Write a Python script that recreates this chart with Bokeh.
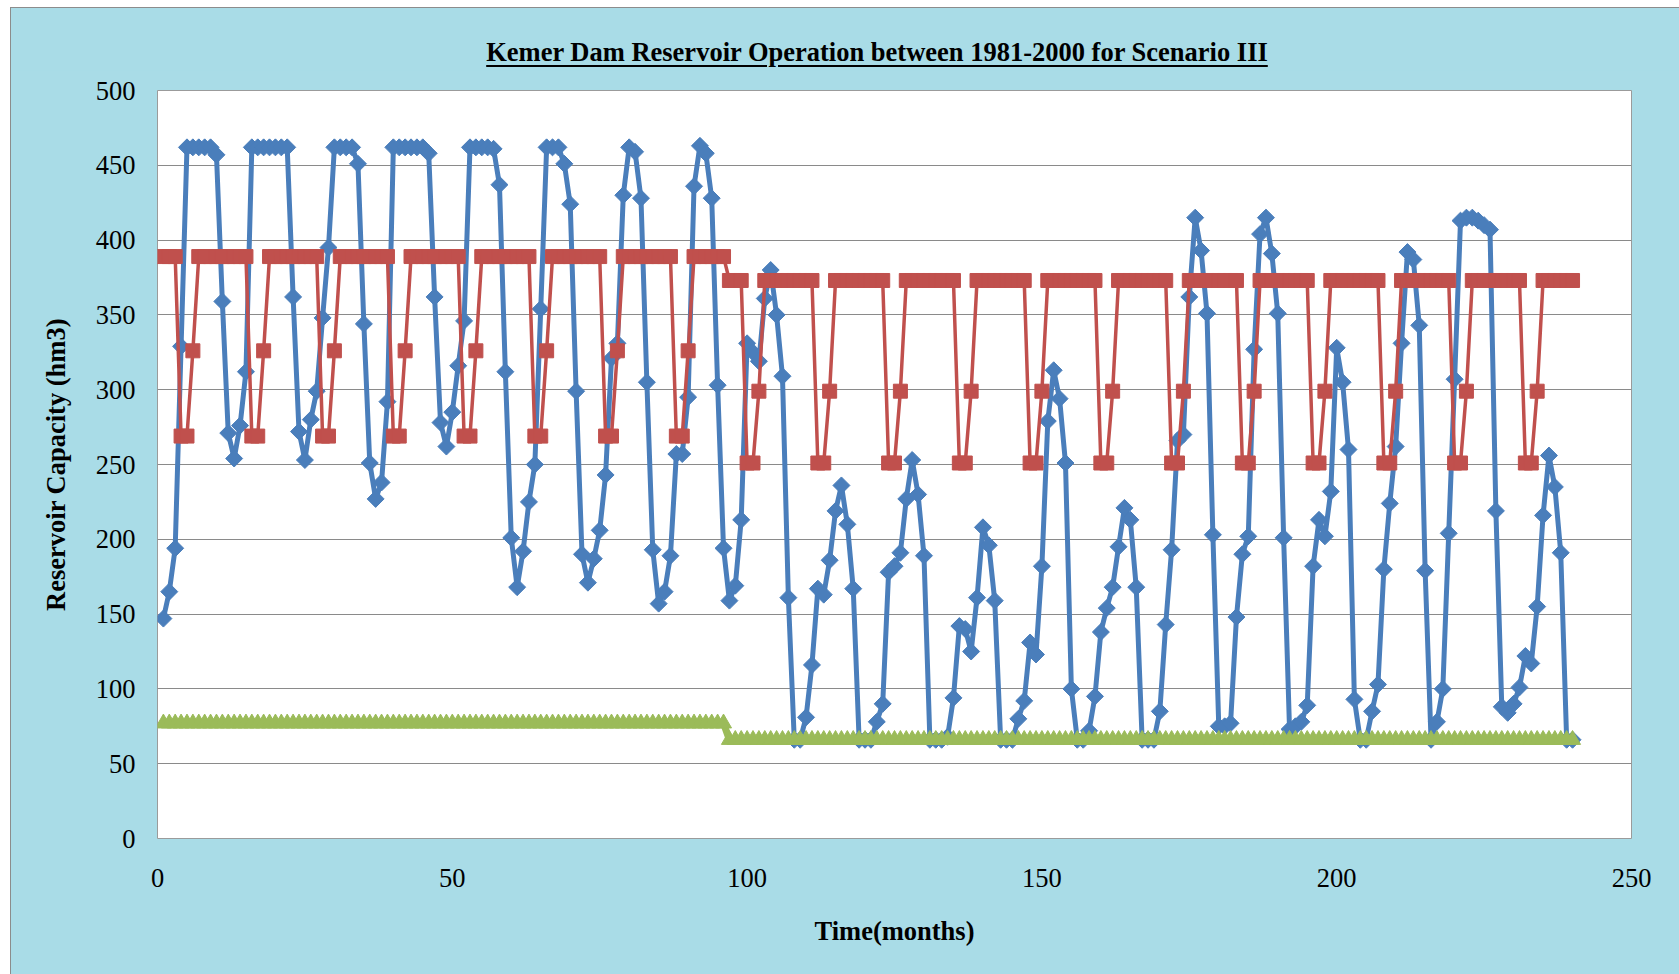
import numpy as np
from bokeh.plotting import figure
from bokeh.layouts import column
from bokeh.models import Range1d, FixedTicker, ColumnDataSource, Div
from bokeh.embed import file_html
from bokeh.resources import INLINE

# ---- data -------------------------------------------------------------
month = list(range(1, 241))

# simulated reservoir storage (hm3), one value per month, 1981-2000
storage = [
    147, 165, 194, 329, 462, 462, 462, 462, 462, 457, 359, 271,
    254, 276, 312, 462, 462, 462, 462, 462, 462, 462, 362, 272,
    253, 280, 299, 348, 395, 462, 462, 462, 462, 451, 344, 251,
    227, 238, 292, 462, 462, 462, 462, 462, 462, 458, 362, 278,
    262, 285, 316, 346, 462, 462, 462, 462, 461, 437, 312, 201,
    168, 192, 225, 250, 354, 462, 462, 462, 451, 424, 299, 190,
    171, 187, 206, 243, 321, 331, 430, 462, 459, 428, 305, 193,
    157, 165, 189, 257, 257, 295, 436, 463, 458, 428, 303, 194,
    159, 169, 213, 331, 325, 319, 361, 380, 350, 309, 161, 66,
    66, 81, 116, 167, 163, 186, 219, 236, 210, 167, 66, 66,
    66, 78, 90, 178, 182, 191, 227, 253, 230, 189, 66, 66,
    66, 68, 94, 142, 140, 125, 161, 208, 196, 159, 66, 66,
    66, 80, 92, 131, 123, 182, 279, 313, 294, 251, 100, 66,
    66, 72, 95, 138, 154, 168, 195, 221, 213, 168, 66, 66,
    66, 85, 143, 193, 266, 270, 362, 415, 393, 351, 203, 75,
    75, 77, 148, 190, 202, 327, 404, 415, 391, 351, 201, 73,
    75, 78, 89, 182, 213, 202, 232, 328, 305, 260, 93, 66,
    66, 85, 103, 180, 224, 262, 331, 392, 387, 343, 179, 66,
    78, 100, 204, 307, 413, 415, 415, 413, 410, 407, 219, 88,
    84, 90, 101, 122, 117, 155, 216, 256, 235, 191, 66, 66,
]

# upper rule curve (hm3)
rule_curve = [
    389, 389, 389, 269, 269, 326, 389, 389, 389, 389, 389, 389,
    389, 389, 389, 269, 269, 326, 389, 389, 389, 389, 389, 389,
    389, 389, 389, 269, 269, 326, 389, 389, 389, 389, 389, 389,
    389, 389, 389, 269, 269, 326, 389, 389, 389, 389, 389, 389,
    389, 389, 389, 269, 269, 326, 389, 389, 389, 389, 389, 389,
    389, 389, 389, 269, 269, 326, 389, 389, 389, 389, 389, 389,
    389, 389, 389, 269, 269, 326, 389, 389, 389, 389, 389, 389,
    389, 389, 389, 269, 269, 326, 389, 389, 389, 389, 389, 389,
    373, 373, 373, 251, 251, 299, 373, 373, 373, 373, 373, 373,
    373, 373, 373, 251, 251, 299, 373, 373, 373, 373, 373, 373,
    373, 373, 373, 251, 251, 299, 373, 373, 373, 373, 373, 373,
    373, 373, 373, 251, 251, 299, 373, 373, 373, 373, 373, 373,
    373, 373, 373, 251, 251, 299, 373, 373, 373, 373, 373, 373,
    373, 373, 373, 251, 251, 299, 373, 373, 373, 373, 373, 373,
    373, 373, 373, 251, 251, 299, 373, 373, 373, 373, 373, 373,
    373, 373, 373, 251, 251, 299, 373, 373, 373, 373, 373, 373,
    373, 373, 373, 251, 251, 299, 373, 373, 373, 373, 373, 373,
    373, 373, 373, 251, 251, 299, 373, 373, 373, 373, 373, 373,
    373, 373, 373, 251, 251, 299, 373, 373, 373, 373, 373, 373,
    373, 373, 373, 251, 251, 299, 373, 373, 373, 373, 373, 373,
]

# minimum operating level (hm3)
min_level = [
    77, 77, 77, 77, 77, 77, 77, 77, 77, 77, 77, 77,
    77, 77, 77, 77, 77, 77, 77, 77, 77, 77, 77, 77,
    77, 77, 77, 77, 77, 77, 77, 77, 77, 77, 77, 77,
    77, 77, 77, 77, 77, 77, 77, 77, 77, 77, 77, 77,
    77, 77, 77, 77, 77, 77, 77, 77, 77, 77, 77, 77,
    77, 77, 77, 77, 77, 77, 77, 77, 77, 77, 77, 77,
    77, 77, 77, 77, 77, 77, 77, 77, 77, 77, 77, 77,
    77, 77, 77, 77, 77, 77, 77, 77, 77, 77, 77, 77,
    66, 66, 66, 66, 66, 66, 66, 66, 66, 66, 66, 66,
    66, 66, 66, 66, 66, 66, 66, 66, 66, 66, 66, 66,
    66, 66, 66, 66, 66, 66, 66, 66, 66, 66, 66, 66,
    66, 66, 66, 66, 66, 66, 66, 66, 66, 66, 66, 66,
    66, 66, 66, 66, 66, 66, 66, 66, 66, 66, 66, 66,
    66, 66, 66, 66, 66, 66, 66, 66, 66, 66, 66, 66,
    66, 66, 66, 66, 66, 66, 66, 66, 66, 66, 66, 66,
    66, 66, 66, 66, 66, 66, 66, 66, 66, 66, 66, 66,
    66, 66, 66, 66, 66, 66, 66, 66, 66, 66, 66, 66,
    66, 66, 66, 66, 66, 66, 66, 66, 66, 66, 66, 66,
    66, 66, 66, 66, 66, 66, 66, 66, 66, 66, 66, 66,
    66, 66, 66, 66, 66, 66, 66, 66, 66, 66, 66, 66,
]

x_ticks = [0, 50, 100, 150, 200, 250]
y_ticks = [0, 50, 100, 150, 200, 250, 300, 350, 400, 450, 500]

TITLE = "Kemer Dam Reservoir Operation between 1981-2000 for Scenario III"
X_LABEL = "Time(months)"
Y_LABEL = "Reservoir Capacity (hm3)"

# ---- styling ----------------------------------------------------------
BG = "#a9dce7"
FONT = "Liberation Serif"
FS = "26.5px"
BLUE = "#4a7ebb"
RED = "#c0504d"
GREEN = "#9bbb59"

WIDTH = 1668
HEADER_H = 62

# ---- underlined title strip ---------------------------------------------
header = Div(
    text=(
        '<div style="width:%dpx; height:%dpx; box-sizing:border-box; '
        'padding-top:31px; padding-left:64px; text-align:center; '
        'font-family:\'%s\'; font-weight:bold; font-size:%s; line-height:1; '
        'color:black; text-decoration:underline; '
        'text-decoration-thickness:2px; text-underline-offset:4px; '
        'white-space:nowrap;">%s</div>'
    ) % (WIDTH, HEADER_H, FONT, FS, TITLE),
    width=WIDTH, height=HEADER_H,
    styles={"background-color": BG, "margin": "0", "padding": "0"},
)

# ---- main chart -------------------------------------------------------
p = figure(
    width=WIDTH, height=904,
    x_range=Range1d(0, 250), y_range=Range1d(0, 500),
    toolbar_location=None, output_backend="svg",
    min_border_left=146, min_border_right=48,
    min_border_top=20, min_border_bottom=136,
    background_fill_color="white", border_fill_color=BG,
    outline_line_color="#9b9b9b", outline_line_width=1,
)

src = ColumnDataSource(dict(month=month, storage=storage,
                            rule=rule_curve, low=min_level))

p.line("month", "storage", source=src, line_color=BLUE, line_width=5)
p.scatter("month", "storage", source=src, marker="square", angle=np.pi / 4,
          size=12, fill_color=BLUE, line_color=BLUE, line_width=1)

p.line("month", "rule", source=src, line_color=RED, line_width=3.5)
p.scatter("month", "rule", source=src, marker="square", size=14,
          fill_color=RED, line_color=RED, line_width=1)

p.line("month", "low", source=src, line_color=GREEN, line_width=7)
p.scatter("month", "low", source=src, marker="triangle", size=16,
          fill_color=GREEN, line_color=GREEN, line_width=1)

# grid
p.xgrid.visible = False
p.ygrid.ticker = FixedTicker(ticks=y_ticks)
p.ygrid.grid_line_color = "#8a8a8a"
p.ygrid.grid_line_width = 1

# axes
for ax in (p.xaxis[0], p.yaxis[0]):
    ax.axis_line_color = None
    ax.major_tick_line_color = None
    ax.minor_tick_line_color = None
    ax.major_tick_out = 0
    ax.major_tick_in = 0
    ax.major_label_text_font = FONT
    ax.major_label_text_font_size = FS
    ax.major_label_text_color = "black"
    ax.axis_label_text_font = FONT
    ax.axis_label_text_font_size = FS
    ax.axis_label_text_font_style = "bold"
    ax.axis_label_text_color = "black"

p.xaxis.ticker = FixedTicker(ticks=x_ticks)
p.yaxis.ticker = FixedTicker(ticks=y_ticks)
p.xaxis.axis_label = X_LABEL
p.yaxis.axis_label = Y_LABEL
p.xaxis.major_label_standoff = 30
p.xaxis.axis_label_standoff = 26
p.yaxis.major_label_standoff = 22
p.yaxis.axis_label_standoff = 22

layout = column(header, p, spacing=0, margin=(7, 0, 0, 10),
                styles={"background-color": BG,
                        "border-top": "1px solid #8c8c8c",
                        "border-left": "1px solid #8c8c8c"})

with open("out.html", "w") as f:
    f.write(file_html(layout, INLINE))
